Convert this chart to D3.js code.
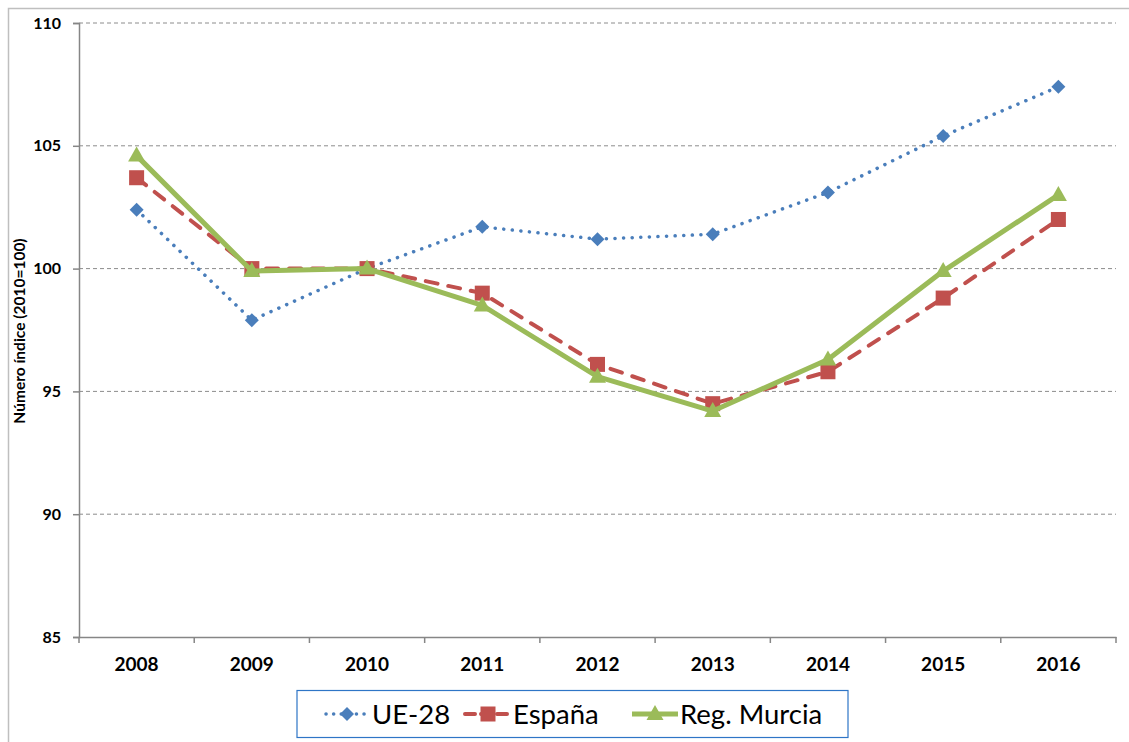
<!DOCTYPE html>
<html lang="es">
<head>
    <meta charset="UTF-8">
    <title>Número índice (2010=100)</title>
    <style>
        body { margin: 0; background: #fff; }
        .grid line { stroke: #8c8c8c; stroke-dasharray: 4 3; stroke-width: 1; }
    </style>
</head>
<body>
    <div id="chart"></div>
    <script src="https://d3js.org/d3.v7.min.js"></script>
    <script>
        const years = ["2008", "2009", "2010", "2011", "2012", "2013", "2014", "2015", "2016"];
        const ue28 = [102.4, 97.9, 100.0, 101.7, 101.2, 101.4, 103.1, 105.4, 107.4];
        const espana = [103.7, 100.0, 100.0, 99.0, 96.1, 94.5, 95.8, 98.8, 102.0];
        const murcia = [104.6, 99.9, 100.0, 98.5, 95.6, 94.2, 96.3, 99.9, 103.0];
        const yTicks = [85, 90, 95, 100, 105, 110];

        const series = [
            { name: "UE-28", values: ue28, color: "#4a7ebb", marker: "diamond" },
            { name: "España", values: espana, color: "#c0504d", marker: "square" },
            { name: "Reg. Murcia", values: murcia, color: "#9bbb59", marker: "triangle" }
        ];

        const FONT = "Lato, 'Open Sans', sans-serif";
        const W = 1129, H = 742;
        const plotL = 79, plotR = 1116, plotT = 23, plotB = 637;

        const svg = d3.select("#chart").append("svg")
            .attr("width", W)
            .attr("height", H)
            .style("font-family", FONT);

        // outer chart border
        svg.append("rect")
            .attr("x", 8.5).attr("y", 8.5)
            .attr("width", W + 10).attr("height", H + 10)
            .attr("fill", "none")
            .attr("stroke", "#bfbfbf")
            .attr("stroke-width", 1.5);

        const x = d3.scaleBand().domain(years).range([plotL, plotR]);
        const y = d3.scaleLinear().domain([85, 110]).range([plotB, plotT]);

        // gridlines
        svg.append("g")
            .attr("class", "grid")
            .selectAll("line")
            .data(yTicks.filter(t => t > 85))
            .enter().append("line")
            .attr("x1", plotL).attr("x2", plotR)
            .attr("y1", d => y(d)).attr("y2", d => y(d));

        // y axis
        const yAxis = svg.append("g")
            .attr("transform", `translate(${plotL},0)`)
            .call(d3.axisLeft(y).tickValues(yTicks).tickSize(6).tickPadding(12));
        yAxis.select(".domain").attr("stroke", "#868686").attr("stroke-width", 1.5);
        yAxis.selectAll(".tick line").attr("stroke", "#868686").attr("stroke-width", 1.5);
        yAxis.selectAll(".tick text")
            .style("font-family", FONT)
            .style("font-size", "16px")
            .style("font-weight", "bold")
            .attr("fill", "#000");

        // x axis with ticks at category boundaries
        const xAxis = svg.append("g")
            .attr("transform", `translate(0,${plotB})`)
            .call(d3.axisBottom(x).tickSize(0).tickPadding(21));
        xAxis.select(".domain").attr("stroke", "#868686").attr("stroke-width", 1.5);
        xAxis.selectAll(".tick text")
            .attr("dy", "0.71em")
            .style("font-family", FONT)
            .style("font-size", "19px")
            .style("font-weight", "bold")
            .attr("fill", "#000");
        xAxis.selectAll(".bound")
            .data(d3.range(years.length + 1))
            .enter().append("line")
            .attr("x1", i => plotL + i * x.step())
            .attr("x2", i => plotL + i * x.step())
            .attr("y1", 0).attr("y2", 6)
            .attr("stroke", "#868686").attr("stroke-width", 1.5);

        // y label
        svg.append("text")
            .attr("transform", "translate(25,331) rotate(-90)")
            .attr("text-anchor", "middle")
            .style("font-size", "15.5px")
            .style("font-weight", "bold")
            .text("Número índice (2010=100)");

        const cx = d => x(d) + x.bandwidth() / 2;

        function drawMarker(g, type, color) {
            if (type === "diamond") {
                g.append("path").attr("d", "M0,-7L7,0L0,7L-7,0Z").attr("fill", color);
            } else if (type === "square") {
                g.append("rect").attr("x", -7.5).attr("y", -7.5).attr("width", 15).attr("height", 15).attr("fill", color);
            } else {
                g.append("path").attr("d", "M0,-9L8.5,6L-8.5,6Z").attr("fill", color);
            }
        }

        function styleLine(p, s) {
            if (s.marker === "diamond") {
                p.attr("stroke-width", 3.5).attr("stroke-dasharray", "0.1 8.5").attr("stroke-linecap", "round");
            } else if (s.marker === "square") {
                p.attr("stroke-width", 4).attr("stroke-dasharray", "12 11").attr("stroke-linecap", "round");
            } else {
                p.attr("stroke-width", 5).attr("stroke-linejoin", "round");
            }
        }

        const line = d3.line().x(d => cx(d.year)).y(d => y(d.v));

        series.forEach(s => {
            const pts = years.map((yr, i) => ({ year: yr, v: s.values[i] }));
            const p = svg.append("path")
                .datum(pts)
                .attr("fill", "none")
                .attr("stroke", s.color)
                .attr("d", line);
            styleLine(p, s);
            pts.forEach(d => {
                const g = svg.append("g").attr("transform", `translate(${cx(d.year)},${y(d.v)})`);
                drawMarker(g, s.marker, s.color);
            });
        });

        // legend
        const legend = svg.append("g");
        legend.append("rect")
            .attr("x", 297).attr("y", 690.5)
            .attr("width", 551).attr("height", 47)
            .attr("fill", "#fff")
            .attr("stroke", "#2e75c6")
            .attr("stroke-width", 1.2);

        const legendX = [324, 465, 632];
        series.forEach((s, i) => {
            const lx = legendX[i], ly = 714;
            const p = legend.append("path")
                .attr("d", `M${lx},${ly}L${lx + 46},${ly}`)
                .attr("stroke", s.color)
                .attr("fill", "none");
            styleLine(p, s);
            if (s.marker === "square") p.attr("stroke-dasharray", "10 6");
            if (s.marker === "diamond") p.attr("stroke-dasharray", "0.1 7.5").attr("stroke-dashoffset", -2);
            const g = legend.append("g").attr("transform", `translate(${lx + 23},${ly})`);
            drawMarker(g, s.marker, s.color);
            legend.append("text")
                .attr("x", lx + 48).attr("y", ly + 10)
                .style("font-size", "27.5px")
                .attr("fill", "#000")
                .text(s.name);
        });
    </script>
</body>
</html>
